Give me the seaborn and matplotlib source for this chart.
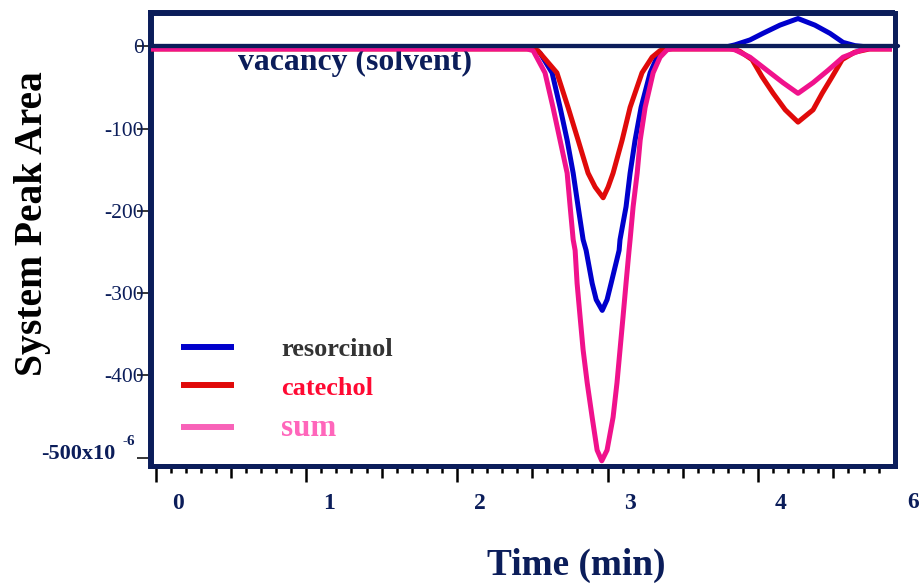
import numpy as np
import pandas as pd
import matplotlib
matplotlib.use("Agg")
import matplotlib.pyplot as plt
import matplotlib.transforms as mtransforms
from matplotlib.ticker import MultipleLocator, FixedLocator
import seaborn as sns

# ---------------- data (time in min, signal in units of 1e-6) ----------------
sum_t = [-0.03, 2.466, 2.506, 2.585, 2.638, 2.685, 2.732, 2.752, 2.772, 2.785, 2.798,
         2.818, 2.838, 2.865, 2.898, 2.931, 2.962, 2.997, 3.037, 3.063, 3.083, 3.103,
         3.123, 3.143, 3.150, 3.170, 3.197, 3.217, 3.250, 3.303, 3.349, 3.396, 3.43,
         3.81, 3.846, 3.946, 4.059, 4.165, 4.265, 4.365, 4.464, 4.564, 4.677, 4.723, 4.889]
sum_v = [-3, -3, -5, -32, -74, -114, -154, -195, -235, -248, -288,
         -329, -369, -409, -451, -491, -504, -491, -451, -409, -369, -329,
         -288, -248, -235, -195, -154, -114, -74, -32, -13, -4, -3,
         -3, -4, -13, -29, -44, -57, -44, -29, -13, -5, -3, -3]

res_t = [-0.03, 2.472, 2.552, 2.632, 2.685, 2.732, 2.772, 2.805, 2.838, 2.858, 2.898,
         2.925, 2.965, 2.997, 3.024, 3.077, 3.083, 3.123, 3.150, 3.183, 3.223, 3.283,
         3.329, 3.382, 3.42, 3.80, 3.846, 3.946, 4.032, 4.145, 4.265, 4.377, 4.477,
         4.564, 4.644, 4.697, 4.889]
res_v = [0, 0, -8, -32, -74, -114, -154, -195, -235, -248, -288,
         -308, -321, -308, -288, -248, -235, -195, -154, -114, -74, -32,
         -13, -2, 0, 0, 2, 8, 16, 26, 34, 26, 16,
         5, 1, 0, 0]

cat_t = [-0.03, 2.492, 2.538, 2.664, 2.738, 2.805, 2.871, 2.918, 2.971, 3.004, 3.037,
         3.097, 3.150, 3.229, 3.296, 3.349, 3.40, 3.834, 3.88, 3.960, 4.027, 4.100,
         4.180, 4.265, 4.365, 4.425, 4.491, 4.558, 4.64, 4.74, 4.889]
cat_v = [-3, -3, -5, -32, -74, -114, -154, -171, -184, -171, -154,
         -114, -74, -32, -13, -5, -3, -3, -6, -16, -37, -57,
         -77, -92, -77, -57, -37, -16, -7, -3, -3]

series_names = ["resorcinol", "catechol", "sum"]
x_major = [0, 1, 2, 3, 4]
x_labels = ["0", "1", "2", "3", "4"]
y_major = [0, -100, -200, -300, -400, -500]
y_labels = ["0", "-100", "-200", "-300", "-400", ""]

# ---------------- style ----------------
NAVY = "#0B1D5A"
C_RES = "#0000CC"
C_CAT = "#E00A0A"
C_SUM = "#F0128C"
C_SUM_LEG = "#F862B8"

sns.set_theme(style="white")
plt.rcParams["font.family"] = ["Liberation Serif", "DejaVu Serif"]

fig = plt.figure(figsize=(9.23, 5.84), dpi=100)
W, H = 923, 584
ax = fig.add_axes([151 / W, 1 - 466 / H, 741 / W, 453 / H])

frames = [
    pd.DataFrame({"t": res_t, "v": res_v, "s": "resorcinol"}),
    pd.DataFrame({"t": cat_t, "v": cat_v, "s": "catechol"}),
    pd.DataFrame({"t": sum_t, "v": sum_v, "s": "sum"}),
]
colors = [C_RES, C_CAT, C_SUM]
for df, c, z in zip(frames, colors, [2, 3, 4]):
    sns.lineplot(data=df, x="t", y="v", ax=ax, color=c, lw=3.6, sort=False,
                 estimator=None, legend=False, zorder=z)

ax.axhline(0, color=NAVY, lw=3.1, zorder=6, xmin=0, xmax=1.008, clip_on=False)

ax.set_xlim(-0.0312, 4.889)
ax.set_ylim(-510.3, 40.75)
ax.set_xlabel("")
ax.set_ylabel("")

# spines
for name, lw in [("left", 4.3), ("top", 4.3), ("right", 3.6), ("bottom", 3.6)]:
    ax.spines[name].set_visible(True)
    ax.spines[name].set_color(NAVY)
    ax.spines[name].set_linewidth(lw)
ax.spines["right"].set_position(("outward", 1.8))

# x ticks: majors at 0.5 steps, labels only on integers
half = np.arange(0, 4.51, 0.5)
ax.xaxis.set_major_locator(FixedLocator(half))
ax.set_xticklabels([x_labels[int(h)] if float(h).is_integer() else "" for h in half])
ax.xaxis.set_minor_locator(MultipleLocator(0.1))
ax.tick_params(axis="x", which="major", direction="out", length=11.5, width=1.8,
               color="black", pad=8, labelsize=17, labelcolor=NAVY, bottom=True)
ax.tick_params(axis="x", which="minor", direction="out", length=5.0, width=1.8,
               color="black", bottom=True)
for tk, h in zip(ax.xaxis.get_major_ticks(), half):
    if not float(h).is_integer():
        tk.tick1line.set_markersize(8.6)
offset = mtransforms.ScaledTranslation(22.5 / 100, 0, fig.dpi_scale_trans)
for lab in ax.get_xticklabels():
    lab.set_fontweight("bold")
    lab.set_transform(lab.get_transform() + offset)

# y ticks
ax.yaxis.set_major_locator(FixedLocator(y_major))
ax.set_yticklabels(y_labels)
ax.tick_params(axis="y", which="major", direction="out", length=10, width=1.1,
               color="black", pad=-5, labelsize=15.5, labelcolor=NAVY, left=True)
ax.yaxis.get_major_ticks()[-1].tick1line.set_color("#555555")

# odd extra labels of the original
fig.text(913 / W, 1 - 502 / H, "6", ha="center", va="center", fontsize=17,
         fontweight="bold", color=NAVY)
ax.text(115 / W, 1 - 453.7 / H, "-500x10", transform=fig.transFigure, ha="right",
        va="center", fontsize=16, fontweight="bold", color=NAVY)
ax.text(128.5 / W, 1 - 441.7 / H, "-6", transform=fig.transFigure, ha="center",
        va="center", fontsize=11, fontweight="bold", color=NAVY)

# annotation
ax.text(238 / W, 1 - 70 / H, "vacancy (solvent)", transform=fig.transFigure,
        ha="left", va="baseline", fontsize=22.9, fontweight="bold", color=NAVY)

# axis titles
fig.text(576.5 / W, 1 - 575 / H, "Time (min)", ha="center", va="baseline",
         fontsize=26.8, fontweight="bold", color=NAVY)
fig.text(33 / W, 1 - 224 / H, "System Peak Area", ha="center", va="center",
         rotation=90, fontsize=28.5, fontweight="bold", color="black")

# legend
handles = ax.get_lines()[:3]
leg = ax.legend(handles, series_names, loc="upper left",
                bbox_to_anchor=(181 / W, 1 - 338 / H), bbox_transform=fig.transFigure,
                frameon=False, borderpad=0, borderaxespad=0, handlelength=2.0,
                handletextpad=1.8, labelspacing=0.56, fontsize=19)
leg_colors = [C_RES, C_CAT, C_SUM_LEG]
txt_colors = ["#333333", "#FF0A33", "#FF66BB"]
for h, c in zip(leg.legend_handles, leg_colors):
    h.set_color(c)
    h.set_linewidth(4.3)
    h.set_solid_capstyle("butt")
for t, c in zip(leg.get_texts(), txt_colors):
    t.set_color(c)
    t.set_fontweight("bold")
leg.get_texts()[2].set_fontsize(22.3)

fig.savefig("out.png", dpi=100)
